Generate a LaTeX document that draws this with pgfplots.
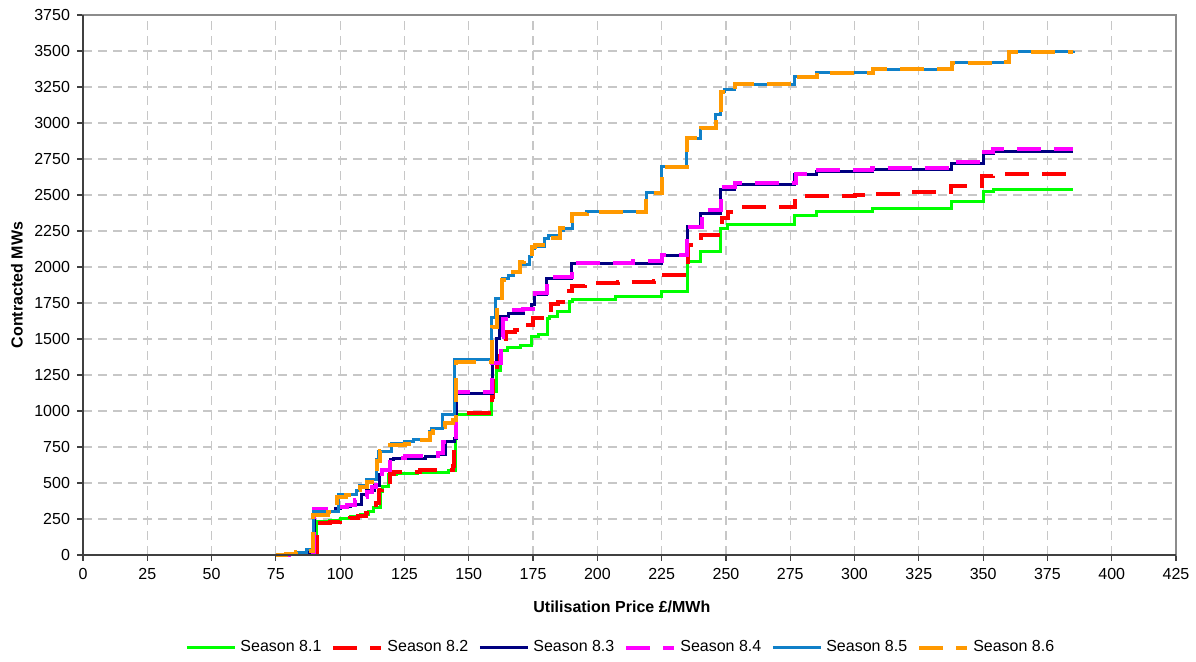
\documentclass[border=0pt]{standalone}
\usepackage{fontspec}
\setmainfont{Liberation Sans}
\usepackage{pgfplots}
\pgfplotsset{compat=1.18}
\definecolor{sA}{RGB}{0,255,0}
\definecolor{sB}{RGB}{255,0,0}
\definecolor{sC}{RGB}{0,0,128}
\definecolor{sD}{RGB}{255,0,255}
\definecolor{sE}{RGB}{16,128,200}
\definecolor{sF}{RGB}{255,153,0}
\begin{document}
\begin{tikzpicture}
\begin{axis}[
 scale only axis, width=546.5pt, height=270pt,
 xmin=0,xmax=425,ymin=0,ymax=3750,
 xtick={0,25,...,425}, ytick={0,250,...,3750},
 scaled ticks=false,
 /pgf/number format/assume math mode=true,
 /pgf/number format/1000 sep={},
 tick label style={font=\fontsize{8}{9.6}\selectfont, text=black},
 tick align=outside, xtick pos=left, ytick pos=left,
 major tick length=3pt,
 tick style={black!75, line width=0.6pt},
 grid=major,
 major grid style={black!22, dash pattern=on 4.5pt off 3pt, line width=0.6pt},
 axis line style={black!45, line width=0.9pt},
 xlabel={Utilisation Price £/MWh}, ylabel={Contracted MWs},
 every axis x label/.style={at={(axis description cs:0.493,-0.0963)},anchor=center,
   font=\fontsize{8}{9.6}\selectfont\bfseries},
 every axis y label/.style={at={(axis description cs:-0.0604,0.5)},rotate=90,anchor=center,
   font=\fontsize{8}{9.6}\selectfont\bfseries},
 legend columns=6,
 legend style={at={(axis description cs:0.493,-0.172)},anchor=center,draw=none,fill=none,
   font=\fontsize{8}{9.6}\selectfont,
   /tikz/every even column/.append style={column sep=3pt}},
 legend image code/.code={\draw[#1] (0pt,0pt) -- (24pt,0pt);},
 const plot, clip=false,
]
\addplot[sA, line width=1.5pt] coordinates {(75,0)(79,5)(84,12)(88,20)(90.8,230)(96,240)(100,255)(104,265)(108,280)(111,300)(113,330)(115.5,440)(116.5,475)(118.7,556)(122,565)(130,570)(138,575)(142,585)(144.8,975)(158.9,1134)(160.8,1280)(162.3,1420)(165,1444)(170,1455)(174.5,1520)(177,1530)(180.5,1640)(181.5,1655)(184.5,1690)(189,1760)(190.5,1772)(207,1794)(225,1829)(235,2037)(240.2,2106)(247.9,2268)(250.7,2298)(276.8,2361)(285.2,2384)(307,2407)(337.7,2453)(350,2523)(353.9,2535)(384.8,2535)};
\addlegendentry{Season 8.1}
\addplot[sB, line width=2pt, dash pattern=on 12pt off 6.5pt] coordinates {(75,0)(79,5)(84,12)(88,20)(90.8,222)(96,232)(100,242)(104,255)(107,268)(110,290)(112,305)(114,360)(115,450)(116.2,493)(119.2,560)(121,578)(131,592)(143.7,615)(144.2,730)(145,988)(159.2,1100)(159.6,1220)(160.8,1380)(162.4,1500)(164.5,1550)(168,1560)(172,1600)(175,1645)(179.6,1700)(182,1740)(184.7,1760)(186.6,1830)(190,1870)(195,1887)(208,1898)(222,1905)(226,1944)(235.2,2153)(240.2,2222)(248.4,2340)(250.8,2385)(253.8,2415)(276.8,2490)(285,2495)(300,2500)(307,2510)(320,2518)(337.7,2560)(349.5,2630)(354,2645)(384.8,2645)};
\addlegendentry{Season 8.2}
\addplot[sC, line width=1.5pt] coordinates {(75,0)(80,5)(85,10)(88,15)(90,305)(98,320)(100,336)(104,350)(108.4,420)(110.3,445)(113.5,480)(115.1,560)(116.6,595)(119.5,665)(120.6,671)(133,687)(138.2,700)(140.8,787)(144.6,810)(145.2,1120)(159.2,1330)(160.8,1500)(161.8,1655)(165.4,1680)(171.1,1713)(174.4,1740)(175.7,1806)(180.3,1921)(190,2025)(225,2083)(235,2280)(240.2,2373)(248,2539)(253.5,2570)(276.8,2639)(285.3,2662)(306.8,2678)(337.7,2720)(350,2789)(354,2801)(385,2801)};
\addlegendentry{Season 8.3}
\addplot[sD, line width=2pt, dash pattern=on 12pt off 6.5pt] coordinates {(75,0)(80,5)(85,10)(88,15)(89.8,317)(98,330)(102.5,347)(105.8,380)(108.4,400)(110.3,440)(112.3,470)(114,500)(116.1,590)(119.5,671)(125.2,687)(138.2,706)(140.1,787)(145,1130)(159.2,1331)(162.5,1516)(163.3,1640)(165.4,1700)(171.2,1710)(175.7,1820)(180.3,1930)(190,2030)(213.9,2040)(225,2083)(235,2280)(240.5,2396)(248.2,2558)(253.5,2586)(277.2,2646)(285.9,2674)(306.6,2690)(338,2731)(350.5,2801)(354,2817)(385,2817)};
\addlegendentry{Season 8.4}
\addplot[sE, line width=1.5pt] coordinates {(75,0)(79,10)(83,20)(87,35)(89.8,300)(99.3,417)(106.4,450)(107.7,480)(110.3,521)(114.2,660)(114.8,717)(120,776)(125.2,787)(128.4,800)(134.9,856)(135.6,880)(139.8,975)(144.3,1360)(159,1650)(160.3,1782)(163.2,1921)(165.4,1944)(167.3,1967)(169.9,2014)(173.8,2071)(174.4,2130)(175.7,2141)(179.6,2199)(181,2222)(185.5,2250)(186.8,2268)(190.3,2365)(195.8,2384)(219.1,2516)(225,2697)(234.8,2894)(240.2,2963)(246.1,3056)(247.9,3217)(249.6,3234)(253.5,3268)(276.8,3322)(285.3,3349)(307.1,3373)(337.8,3419)(360.2,3495)(385,3500)};
\addlegendentry{Season 8.5}
\addplot[sF, line width=2pt, dash pattern=on 12pt off 6.5pt] coordinates {(75,0)(79,10)(83,20)(87,30)(89.6,278)(95.4,301)(98.6,405)(102.3,417)(106.4,450)(107.7,470)(110.3,510)(114.2,650)(115.5,720)(119.4,764)(125.2,770)(128.4,799)(135,850)(136.2,891)(140.8,920)(143.7,940)(145,1343)(158.9,1586)(160.8,1782)(162.8,1910)(167.3,1967)(169.9,2037)(171.5,2050)(174.4,2141)(175.7,2153)(181,2199)(185.5,2268)(190.3,2365)(195.8,2384)(219.1,2516)(225,2697)(234.8,2894)(240.2,2963)(246.1,3056)(247.9,3217)(249.6,3234)(253.5,3268)(276.8,3322)(285.3,3349)(307.1,3373)(337.8,3419)(353.3,3426)(360.2,3495)(385,3495)};
\addlegendentry{Season 8.6}
\draw[black!75, line width=0.9pt] (rel axis cs:0,1) -- (rel axis cs:0,0) -- (rel axis cs:1,0);
\end{axis}
\pgfresetboundingbox
\path (current axis.south west) ++(-41.5pt,-53.5pt) (current axis.north east) ++(10pt,7.5pt);
\end{tikzpicture}
\end{document}
